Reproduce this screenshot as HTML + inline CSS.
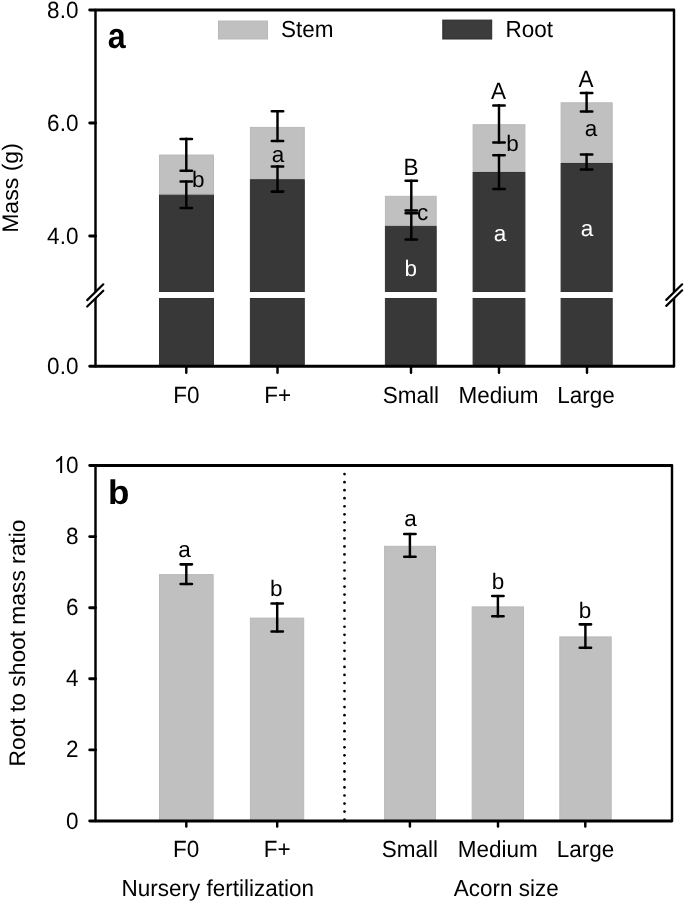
<!DOCTYPE html>
<html><head><meta charset="utf-8">
<style>
html,body{margin:0;padding:0;background:#fff;}
body{width:685px;height:903px;overflow:hidden;}
svg{display:block;will-change:transform;text-rendering:geometricPrecision;font-family:"Liberation Sans", sans-serif;font-size:22.5px;}
</style></head>
<body>
<svg width="685" height="903" viewBox="0 0 685 903">
<rect x="0" y="0" width="685" height="903" fill="#fff"/>
<rect x="159.50" y="155.00" width="54.00" height="39.10" fill="#c0c0c0" stroke="#b9b9b9" stroke-width="1"/>
<rect x="159.50" y="195.10" width="54.00" height="96.40" fill="#383838" stroke="#333333" stroke-width="1"/>
<rect x="159.50" y="298.50" width="54.00" height="67.30" fill="#383838" stroke="#333333" stroke-width="1"/>
<rect x="250.40" y="127.40" width="53.90" height="51.30" fill="#c0c0c0" stroke="#b9b9b9" stroke-width="1"/>
<rect x="250.40" y="179.70" width="53.90" height="111.80" fill="#383838" stroke="#333333" stroke-width="1"/>
<rect x="250.40" y="298.50" width="53.90" height="67.30" fill="#383838" stroke="#333333" stroke-width="1"/>
<rect x="385.40" y="196.30" width="50.80" height="29.10" fill="#c0c0c0" stroke="#b9b9b9" stroke-width="1"/>
<rect x="385.40" y="226.40" width="50.80" height="65.10" fill="#383838" stroke="#333333" stroke-width="1"/>
<rect x="385.40" y="298.50" width="50.80" height="67.30" fill="#383838" stroke="#333333" stroke-width="1"/>
<rect x="473.10" y="124.70" width="51.80" height="46.80" fill="#c0c0c0" stroke="#b9b9b9" stroke-width="1"/>
<rect x="473.10" y="172.50" width="51.80" height="119.00" fill="#383838" stroke="#333333" stroke-width="1"/>
<rect x="473.10" y="298.50" width="51.80" height="67.30" fill="#383838" stroke="#333333" stroke-width="1"/>
<rect x="561.10" y="102.80" width="51.10" height="59.70" fill="#c0c0c0" stroke="#b9b9b9" stroke-width="1"/>
<rect x="561.10" y="163.50" width="51.10" height="128.00" fill="#383838" stroke="#333333" stroke-width="1"/>
<rect x="561.10" y="298.50" width="51.10" height="67.30" fill="#383838" stroke="#333333" stroke-width="1"/>
<rect x="218.50" y="21.00" width="49.00" height="18.00" fill="#c0c0c0" stroke="#b9b9b9" stroke-width="1"/>
<rect x="442.80" y="20.10" width="48.90" height="18.90" fill="#3c3c3c" stroke="#2a2a2a" stroke-width="1"/>
<text transform="translate(281,37.3) scale(1.0,1.03)">Stem</text>
<text transform="translate(505.5,36.9) scale(1.0,1.03)">Root</text>
<g stroke="#000" stroke-linecap="round" stroke-linejoin="round" fill="none">
<path d="M186.3,138.8V170.9" fill="none" stroke-width="2.45"/>
<path d="M180.60000000000002,138.95000000000002H192.0M180.60000000000002,170.8H192.0" fill="none" stroke-width="2.55"/>
<path d="M186.3,181.4V208.0" fill="none" stroke-width="2.45"/>
<path d="M180.60000000000002,181.55H192.0M180.60000000000002,207.9H192.0" fill="none" stroke-width="2.55"/>
<path d="M277.5,111.1V141.1" fill="none" stroke-width="2.45"/>
<path d="M271.8,111.25H283.2M271.8,141.0H283.2" fill="none" stroke-width="2.55"/>
<path d="M277.5,166.3V191.7" fill="none" stroke-width="2.45"/>
<path d="M271.8,166.45000000000002H283.2M271.8,191.6H283.2" fill="none" stroke-width="2.55"/>
<path d="M411.3,180.6V210.5" fill="none" stroke-width="2.45"/>
<path d="M405.6,180.75H417.0M405.6,210.4H417.0" fill="none" stroke-width="2.55"/>
<path d="M411.3,213.0V239.5" fill="none" stroke-width="2.45"/>
<path d="M405.6,213.15H417.0M405.6,239.4H417.0" fill="none" stroke-width="2.55"/>
<path d="M499.0,105.3V142.5" fill="none" stroke-width="2.45"/>
<path d="M493.3,105.45H504.7M493.3,142.4H504.7" fill="none" stroke-width="2.55"/>
<path d="M499.0,155.0V189.0" fill="none" stroke-width="2.45"/>
<path d="M493.3,155.15H504.7M493.3,188.9H504.7" fill="none" stroke-width="2.55"/>
<path d="M586.6,92.8V111.6" fill="none" stroke-width="2.45"/>
<path d="M580.9,92.95H592.3000000000001M580.9,111.5H592.3000000000001" fill="none" stroke-width="2.55"/>
<path d="M586.6,154.4V169.6" fill="none" stroke-width="2.45"/>
<path d="M580.9,154.55H592.3000000000001M580.9,169.5H592.3000000000001" fill="none" stroke-width="2.55"/>
<path d="M89.7,10H673.75M89.7,366.3H673.75" fill="none" stroke-width="2.9"/>
<path d="M674,10V292M674,298V366.3M95.5,10V292M95.5,298V366.3" fill="none" stroke-width="2.45"/>
<line x1="89.7" y1="123" x2="95.5" y2="123" stroke-width="2.9"/>
<line x1="89.7" y1="236" x2="95.5" y2="236" stroke-width="2.9"/>
<line x1="186.3" y1="367.3" x2="186.3" y2="372.8" stroke-width="2.45"/>
<line x1="277.5" y1="367.3" x2="277.5" y2="372.8" stroke-width="2.45"/>
<line x1="411.0" y1="367.3" x2="411.0" y2="372.8" stroke-width="2.45"/>
<line x1="499.0" y1="367.3" x2="499.0" y2="372.8" stroke-width="2.45"/>
<line x1="587.0" y1="367.3" x2="587.0" y2="372.8" stroke-width="2.45"/>
</g>
<polygon points="87.2,300.1 103.3,284.3 103.3,290.7 87.2,306.5" fill="#fff"/>
<path d="M87.2,300.1L103.3,284.3M87.2,306.5L103.3,290.7" stroke="#000" stroke-width="2.2" stroke-linecap="round" fill="none"/>
<polygon points="666.3,299.9 682.2,284.3 682.2,290.3 666.3,305.9" fill="#fff"/>
<path d="M666.3,299.9L682.2,284.3M666.3,305.9L682.2,290.3" stroke="#000" stroke-width="2.2" stroke-linecap="round" fill="none"/>
<text x="198.2" y="187.2" text-anchor="middle">b</text>
<text x="278.0" y="161.9" text-anchor="middle">a</text>
<text transform="translate(411.0,175.1) scale(1.0,1.045)" text-anchor="middle">B</text>
<text x="422.6" y="219.5" text-anchor="middle">c</text>
<text x="410.8" y="276.1" text-anchor="middle" fill="#fff">b</text>
<text transform="translate(498.5,99.3) scale(1.0,1.045)" text-anchor="middle">A</text>
<text x="512.5" y="151.4" text-anchor="middle">b</text>
<text x="499.9" y="240.6" text-anchor="middle" fill="#fff">a</text>
<text transform="translate(586.0,87.2) scale(1.0,1.045)" text-anchor="middle">A</text>
<text x="590.9" y="135.7" text-anchor="middle">a</text>
<text x="587.0" y="236.4" text-anchor="middle" fill="#fff">a</text>
<text transform="translate(78.4,17.6) scale(1.0,1.045)" text-anchor="end">8.0</text>
<text transform="translate(78.4,130.8) scale(1.0,1.045)" text-anchor="end">6.0</text>
<text transform="translate(78.4,243.8) scale(1.0,1.045)" text-anchor="end">4.0</text>
<text transform="translate(78.4,374.4) scale(1.0,1.045)" text-anchor="end">0.0</text>
<text transform="translate(186.4,403.3) scale(1.0,1.045)" text-anchor="middle">F0</text>
<text transform="translate(277.6,403.3) scale(1.0,1.045)" text-anchor="middle">F+</text>
<text transform="translate(410.8,403.3) scale(1.0,1.03)" text-anchor="middle">Small</text>
<text transform="translate(498.5,403.3) scale(1.0,1.03)" text-anchor="middle">Medium</text>
<text transform="translate(586.1,403.3) scale(1.0,1.03)" text-anchor="middle">Large</text>
<text transform="translate(107.7,47.5) scale(0.92,1.02)" font-size="35" font-weight="bold">a</text>
<text transform="translate(18.0,188.0) rotate(-90) scale(1.025,1.0)" text-anchor="middle">Mass (g)</text>
<rect x="159.50" y="574.60" width="53.65" height="245.90" fill="#c0c0c0" stroke="#b9b9b9" stroke-width="1"/>
<rect x="250.40" y="618.10" width="53.30" height="202.40" fill="#c0c0c0" stroke="#b9b9b9" stroke-width="1"/>
<rect x="384.60" y="546.30" width="50.90" height="274.20" fill="#c0c0c0" stroke="#b9b9b9" stroke-width="1"/>
<rect x="472.20" y="606.90" width="51.30" height="213.60" fill="#c0c0c0" stroke="#b9b9b9" stroke-width="1"/>
<rect x="559.80" y="636.90" width="51.40" height="183.60" fill="#c0c0c0" stroke="#b9b9b9" stroke-width="1"/>
<g fill="#000"><circle cx="344.5" cy="474.10" r="1.35"/><circle cx="344.5" cy="482.14" r="1.35"/><circle cx="344.5" cy="490.17" r="1.35"/><circle cx="344.5" cy="498.21" r="1.35"/><circle cx="344.5" cy="506.24" r="1.35"/><circle cx="344.5" cy="514.28" r="1.35"/><circle cx="344.5" cy="522.31" r="1.35"/><circle cx="344.5" cy="530.35" r="1.35"/><circle cx="344.5" cy="538.38" r="1.35"/><circle cx="344.5" cy="546.41" r="1.35"/><circle cx="344.5" cy="554.45" r="1.35"/><circle cx="344.5" cy="562.48" r="1.35"/><circle cx="344.5" cy="570.52" r="1.35"/><circle cx="344.5" cy="578.55" r="1.35"/><circle cx="344.5" cy="586.59" r="1.35"/><circle cx="344.5" cy="594.62" r="1.35"/><circle cx="344.5" cy="602.66" r="1.35"/><circle cx="344.5" cy="610.69" r="1.35"/><circle cx="344.5" cy="618.73" r="1.35"/><circle cx="344.5" cy="626.76" r="1.35"/><circle cx="344.5" cy="634.80" r="1.35"/><circle cx="344.5" cy="642.83" r="1.35"/><circle cx="344.5" cy="650.87" r="1.35"/><circle cx="344.5" cy="658.90" r="1.35"/><circle cx="344.5" cy="666.94" r="1.35"/><circle cx="344.5" cy="674.97" r="1.35"/><circle cx="344.5" cy="683.01" r="1.35"/><circle cx="344.5" cy="691.04" r="1.35"/><circle cx="344.5" cy="699.08" r="1.35"/><circle cx="344.5" cy="707.11" r="1.35"/><circle cx="344.5" cy="715.15" r="1.35"/><circle cx="344.5" cy="723.18" r="1.35"/><circle cx="344.5" cy="731.22" r="1.35"/><circle cx="344.5" cy="739.25" r="1.35"/><circle cx="344.5" cy="747.29" r="1.35"/><circle cx="344.5" cy="755.32" r="1.35"/><circle cx="344.5" cy="763.36" r="1.35"/><circle cx="344.5" cy="771.39" r="1.35"/><circle cx="344.5" cy="779.43" r="1.35"/><circle cx="344.5" cy="787.46" r="1.35"/><circle cx="344.5" cy="795.50" r="1.35"/><circle cx="344.5" cy="803.53" r="1.35"/><circle cx="344.5" cy="811.57" r="1.35"/><circle cx="344.5" cy="819.60" r="1.35"/></g>
<g stroke="#000" stroke-linecap="round" stroke-linejoin="round" fill="none">
<path d="M186.3,564.2V584.0" fill="none" stroke-width="2.45"/>
<path d="M180.60000000000002,564.35H192.0M180.60000000000002,583.9H192.0" fill="none" stroke-width="2.55"/>
<path d="M277.2,603.3V631.5" fill="none" stroke-width="2.45"/>
<path d="M271.5,603.4499999999999H282.9M271.5,631.4H282.9" fill="none" stroke-width="2.55"/>
<path d="M409.9,533.9V556.9" fill="none" stroke-width="2.45"/>
<path d="M404.2,534.05H415.59999999999997M404.2,556.8H415.59999999999997" fill="none" stroke-width="2.55"/>
<path d="M497.9,595.9V616.4" fill="none" stroke-width="2.45"/>
<path d="M492.2,596.05H503.59999999999997M492.2,616.3H503.59999999999997" fill="none" stroke-width="2.55"/>
<path d="M585.4,624.2V647.9" fill="none" stroke-width="2.45"/>
<path d="M579.6999999999999,624.35H591.1M579.6999999999999,647.8H591.1" fill="none" stroke-width="2.55"/>
<path d="M89.7,465.5H671.75M89.7,821H671.75" fill="none" stroke-width="2.9"/>
<path d="M95.5,465.5V821M672,465.5V821" fill="none" stroke-width="2.45"/>
<line x1="89.7" y1="536.6" x2="95.5" y2="536.6" stroke-width="2.9"/>
<line x1="89.7" y1="607.7" x2="95.5" y2="607.7" stroke-width="2.9"/>
<line x1="89.7" y1="678.8" x2="95.5" y2="678.8" stroke-width="2.9"/>
<line x1="89.7" y1="749.9" x2="95.5" y2="749.9" stroke-width="2.9"/>
<line x1="186.3" y1="822" x2="186.3" y2="826.5" stroke-width="2.45"/>
<line x1="277.2" y1="822" x2="277.2" y2="826.5" stroke-width="2.45"/>
<line x1="409.9" y1="822" x2="409.9" y2="826.5" stroke-width="2.45"/>
<line x1="498.0" y1="822" x2="498.0" y2="826.5" stroke-width="2.45"/>
<line x1="585.3" y1="822" x2="585.3" y2="826.5" stroke-width="2.45"/>
</g>
<text transform="translate(78.4,473.0) scale(1.0,1.045)" text-anchor="end">0</text>
<path transform="translate(53.773144531250004,473.0) scale(0.010986,-0.011481)" d="M763,0L583,0L583,1147Q518,1085 412.5,1023Q307,961 223,930L223,1104Q374,1175 485.5,1274.5Q597,1374 647,1472L763,1472Z" fill="#000" stroke="none"/>
<text transform="translate(78.4,544.1) scale(1.0,1.045)" text-anchor="end">8</text>
<text transform="translate(78.4,615.2) scale(1.0,1.045)" text-anchor="end">6</text>
<text transform="translate(78.4,686.3) scale(1.0,1.045)" text-anchor="end">4</text>
<text transform="translate(78.4,757.4) scale(1.0,1.045)" text-anchor="end">2</text>
<text transform="translate(78.4,828.5) scale(1.0,1.045)" text-anchor="end">0</text>
<text x="184.4" y="557.4" text-anchor="middle">a</text>
<text x="276.3" y="595.9" text-anchor="middle">b</text>
<text x="410.5" y="526.3" text-anchor="middle">a</text>
<text x="498.0" y="588.5" text-anchor="middle">b</text>
<text x="585.0" y="618.1" text-anchor="middle">b</text>
<text transform="translate(186.2,857.4) scale(1.0,1.045)" text-anchor="middle">F0</text>
<text transform="translate(277.1,857.4) scale(1.0,1.045)" text-anchor="middle">F+</text>
<text transform="translate(409.9,857.4) scale(1.0,1.03)" text-anchor="middle">Small</text>
<text transform="translate(497.7,857.4) scale(1.0,1.03)" text-anchor="middle">Medium</text>
<text transform="translate(585.4,857.4) scale(1.0,1.03)" text-anchor="middle">Large</text>
<text transform="translate(217.7,895.8) scale(1.0,1.03)" text-anchor="middle">Nursery fertilization</text>
<text transform="translate(506.2,896.0) scale(1.0,1.03)" text-anchor="middle">Acorn size</text>
<text transform="translate(107.9,503.8) scale(1.0,0.975)" font-size="35" font-weight="bold">b</text>
<text transform="translate(25.0,643.0) rotate(-90) scale(1.012,1.0)" text-anchor="middle">Root to shoot mass ratio</text>
</svg>
</body></html>
